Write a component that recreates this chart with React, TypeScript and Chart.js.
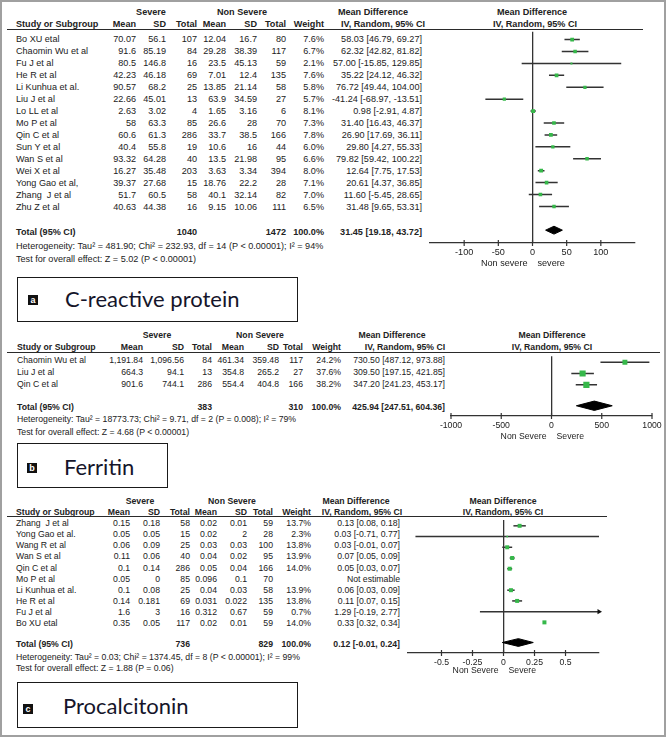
import React, { useEffect, useRef } from "react";
import { Chart, registerables } from "chart.js";
Chart.register(...registerables);

// ================= Panel a — C-reactive protein =================
const STUDIES_A = ["Bo XU etal", "Chaomin Wu et al", "Fu J et al", "He R et al", "Li Kunhua et al.", "Liu J et al", "Lo LL et al", "Mo P et al", "Qin C et al", "Sun Y et al", "Wan S et al", "Wei X et al", "Yong Gao et al,", "Zhang  J et al", "Zhu Z et al"];
const SEV_MEAN_A = [70.07, 91.6, 80.5, 42.23, 90.57, 22.66, 2.63, 58, 60.6, 40.4, 93.32, 16.27, 39.37, 51.7, 40.63];
const SEV_SD_A = [56.1, 85.19, 146.8, 46.18, 68.2, 45.01, 3.02, 63.3, 61.3, 55.8, 64.28, 35.48, 27.68, 60.5, 44.38];
const SEV_N_A = [107, 84, 16, 69, 25, 13, 4, 85, 286, 19, 40, 203, 15, 58, 16];
const NS_MEAN_A = [12.04, 29.28, 23.5, 7.01, 13.85, 63.9, 1.65, 26.6, 33.7, 10.6, 13.5, 3.63, 18.76, 40.1, 9.15];
const NS_SD_A = [16.7, 38.39, 45.13, 12.4, 21.14, 34.59, 3.16, 28, 38.5, 16, 21.98, 3.34, 22.2, 32.14, 10.06];
const NS_N_A = [80, 117, 59, 135, 58, 27, 6, 70, 166, 44, 95, 394, 28, 82, 111];
const WEIGHT_A = [7.6, 6.7, 2.1, 7.6, 5.8, 5.7, 8.1, 7.3, 7.8, 6.0, 6.6, 8.0, 7.1, 7.0, 6.5];
const MD_A = [58.03, 62.32, 57.0, 35.22, 76.72, -41.24, 0.98, 31.4, 26.9, 29.8, 79.82, 12.64, 20.61, 11.6, 31.48];
const LO_A = [46.79, 42.82, -15.85, 24.12, 49.44, -68.97, -2.91, 16.43, 17.69, 4.27, 59.42, 7.75, 4.37, -5.45, 9.65];
const HI_A = [69.27, 81.82, 129.85, 46.32, 104.0, -13.51, 4.87, 46.37, 36.11, 55.33, 100.22, 17.53, 36.85, 28.65, 53.31];
const TOTAL_N_A = [1040, 1472];
const TOTAL_EST_A = [31.45, 19.18, 43.72];
const HETERO_A = "Heterogeneity: Tau² = 481.90; Chi² = 232.93, df = 14 (P < 0.00001); I² = 94%";
const OVERALL_A = "Test for overall effect: Z = 5.02 (P < 0.00001)";
const TICKS_A = [-100, -50, 0, 50, 100];
const RANGE_A = [-150, 150];
const SIDE_A = ["Non severe", "severe"];

// ================= Panel b — Ferritin =================
const STUDIES_B = ["Chaomin Wu et al", "Liu J et al", "Qin C et al"];
const SEV_MEAN_B = [1191.84, 664.3, 901.6];
const SEV_SD_B = [1096.56, 94.1, 744.1];
const SEV_N_B = [84, 13, 286];
const NS_MEAN_B = [461.34, 354.8, 554.4];
const NS_SD_B = [359.48, 265.2, 404.8];
const NS_N_B = [117, 27, 166];
const WEIGHT_B = [24.2, 37.6, 38.2];
const MD_B = [730.5, 309.5, 347.2];
const LO_B = [487.12, 197.15, 241.23];
const HI_B = [973.88, 421.85, 453.17];
const TOTAL_N_B = [383, 310];
const TOTAL_EST_B = [425.94, 247.51, 604.36];
const HETERO_B = "Heterogeneity: Tau² = 18773.73; Chi² = 9.71, df = 2 (P = 0.008); I² = 79%";
const OVERALL_B = "Test for overall effect: Z = 4.68 (P < 0.00001)";
const TICKS_B = [-1000, -500, 0, 500, 1000];
const RANGE_B = [-1000, 1000];
const SIDE_B = ["Non Severe", "Severe"];

// ================= Panel c — Procalcitonin =================
const STUDIES_C = ["Zhang  J et al", "Yong Gao et al.", "Wang R et al", "Wan S et al", "Qin C et al", "Mo P et al", "Li Kunhua et al.", "He R et al", "Fu J et al", "Bo XU etal"];
const SEV_MEAN_C = [0.15, 0.05, 0.06, 0.11, 0.1, 0.05, 0.1, 0.14, 1.6, 0.35];
const SEV_SD_C = [0.18, 0.05, 0.09, 0.06, 0.14, 0, 0.08, 0.181, 3, 0.05];
const SEV_N_C = [58, 15, 25, 40, 286, 85, 25, 69, 16, 117];
const NS_MEAN_C = [0.02, 0.02, 0.03, 0.04, 0.05, 0.096, 0.04, 0.031, 0.312, 0.02];
const NS_SD_C = [0.01, 2, 0.03, 0.02, 0.04, 0.1, 0.03, 0.022, 0.67, 0.01];
const NS_N_C = [59, 28, 100, 95, 166, 70, 58, 135, 59, 59];
const WEIGHT_C = [13.7, 2.3, 13.8, 13.9, 14.0, null, 13.9, 13.8, 0.7, 14.0];
const MD_C = [0.13, 0.03, 0.03, 0.07, 0.05, null, 0.06, 0.11, 1.29, 0.33];
const LO_C = [0.08, -0.71, -0.01, 0.05, 0.03, null, 0.03, 0.07, -0.19, 0.32];
const HI_C = [0.18, 0.77, 0.07, 0.09, 0.07, null, 0.09, 0.15, 2.77, 0.34];
const TOTAL_N_C = [736, 829];
const TOTAL_EST_C = [0.12, -0.01, 0.24];
const HETERO_C = "Heterogeneity: Tau² = 0.03; Chi² = 1374.45, df = 8 (P < 0.00001); I² = 99%";
const OVERALL_C = "Test for overall effect: Z = 1.88 (P = 0.06)";
const TICKS_C = [-0.5, -0.25, 0, 0.25, 0.5];
const RANGE_C = [-0.77, 0.77];
const SIDE_C = ["Non Severe", "Severe"];

// ================= styling =================
const FONT = "'Liberation Sans', Arial, Helvetica, sans-serif";
const BIG_FONT = "Lato, 'Open Sans', sans-serif";
const INK = "#222";
const LINE = "#333";
const GREEN = "#36b84a";
const PAD = 18;
const AXIS_H = 34;

const fmt = (v: number) => v.toLocaleString("en-US", { maximumFractionDigits: 3 });
const fmtW = (w: number | null) => (w == null ? "" : w.toFixed(1) + "%");
const fmtCI = (m: number | null, l: number | null, h: number | null) =>
  m == null ? "Not estimable" : `${m.toFixed(2)} [${(l as number).toFixed(2)}, ${(h as number).toFixed(2)}]`;

function T({ x, y, children, align = "left", bold = false, fs, w = 260 }: any) {
  const left = align === "right" ? x - w : align === "center" ? x - w / 2 : x;
  return (
    <div style={{ position: "absolute", left, top: y - 10, width: w, height: 20, lineHeight: "20px", fontSize: fs, fontWeight: bold ? 700 : 400, textAlign: align, whiteSpace: "pre", fontFamily: FONT, color: INK }}>
      {children}
    </div>
  );
}

const axisDecor = {
  id: "axisDecor",
  afterDraw(chart: any, _a: any, o: any) {
    const { ctx, chartArea: ca } = chart;
    const sx = chart.scales.x;
    ctx.save();
    ctx.strokeStyle = LINE;
    ctx.lineWidth = 1.2;
    sx.ticks.forEach((t: any) => {
      const x = sx.getPixelForValue(t.value);
      ctx.beginPath();
      ctx.moveTo(x, ca.bottom - 3);
      ctx.lineTo(x, ca.bottom + 3);
      ctx.stroke();
    });
    ctx.font = `${o.fs}px ${FONT}`;
    ctx.fillStyle = INK;
    ctx.textBaseline = "middle";
    const x0 = sx.getPixelForValue(0);
    ctx.textAlign = "right";
    ctx.fillText(o.side[0], x0 - o.gap, ca.bottom + o.sideY);
    ctx.textAlign = "left";
    ctx.fillText(o.side[1], x0 + o.gap, ca.bottom + o.sideY);
    ctx.restore();
  },
};

function Forest({ p }: any) {
  const L = p.L;
  const ref = useRef<HTMLCanvasElement>(null);
  const W = L.axisR - L.axisL + 2 * PAD;
  const H = L.axisY - L.lineY + AXIS_H;
  useEffect(() => {
    const shift = L.markShift / L.rowH;
    const [xMin, xMax] = p.range;
    const ds: any[] = [];
    p.md.forEach((m: number | null, i: number) => {
      if (m == null) return;
      const y = i + shift;
      ds.push({
        order: 3,
        data: [{ x: Math.max(p.lo[i], xMin), y }, { x: Math.min(p.hi[i], xMax), y }],
        showLine: true, borderColor: LINE, borderWidth: 1.5, pointRadius: 0, pointHoverRadius: 0,
      });
    });
    const arrows: any[] = [];
    p.md.forEach((m: number | null, i: number) => {
      if (m == null) return;
      if (p.hi[i] > xMax) arrows.push({ x: xMax, y: i + shift, r: 90 });
      if (p.lo[i] < xMin) arrows.push({ x: xMin, y: i + shift, r: -90 });
    });
    if (arrows.length)
      ds.push({
        order: 2,
        data: arrows.map((a) => ({ x: a.x, y: a.y })), pointStyle: "triangle", pointRotation: arrows.map((a) => a.r),
        pointRadius: 3, backgroundColor: "#111", borderColor: "#111", borderWidth: 0, clip: false, showLine: false,
      });
    const sq = p.md.map((_m: any, i: number) => i).filter((i: number) => p.md[i] != null && p.md[i] >= xMin && p.md[i] <= xMax);
    ds.push({
      order: 0,
      data: sq.map((i: number) => ({ x: p.md[i], y: i + shift })), pointStyle: "rect",
      pointRadius: sq.map((i: number) => (L.sq * Math.sqrt(p.weight[i])) / Math.SQRT2), pointHoverRadius: 0,
      backgroundColor: GREEN, borderWidth: 0, showLine: false,
    });
    const ty = (L.totalY - L.row0) / L.rowH + shift;
    const h = L.dia / L.rowH;
    const [est, tlo, thi] = p.totEst;
    // diamond: upper edge filled down to lower edge
    ds.push({
      order: 1,
      data: [{ x: tlo, y: ty }, { x: est, y: ty - h }, { x: thi, y: ty }],
      showLine: true, fill: "+1", backgroundColor: "#000", borderColor: "#000", borderWidth: 1, pointRadius: 0, pointHoverRadius: 0,
    });
    ds.push({
      order: 1,
      data: [{ x: tlo, y: ty }, { x: est, y: ty + h }, { x: thi, y: ty }],
      showLine: true, fill: false, backgroundColor: "#000", borderColor: "#000", borderWidth: 1, pointRadius: 0, pointHoverRadius: 0,
    });
    const chart = new Chart(ref.current as HTMLCanvasElement, {
      type: "scatter",
      data: { datasets: ds },
      plugins: [axisDecor],
      options: {
        responsive: false, animation: false, events: [],
        layout: { padding: { left: PAD, right: PAD, top: 0, bottom: 0 } },
        plugins: { legend: { display: false }, tooltip: { enabled: false }, axisDecor: { fs: p.fs, side: p.side, gap: 5, sideY: L.sideY } } as any,
        scales: {
          x: {
            type: "linear", min: xMin, max: xMax,
            afterBuildTicks: (s: any) => { s.ticks = p.ticks.map((v: number) => ({ value: v })); },
            afterFit: (s: any) => { s.height = AXIS_H; },
            border: { display: true, color: LINE, width: 1.3 },
            grid: { drawTicks: false, lineWidth: 1.3, color: (c: any) => (c.tick && c.tick.value === 0 ? LINE : "rgba(0,0,0,0)") },
            ticks: { autoSkip: false, maxRotation: 0, padding: L.tickPad, font: { family: FONT, size: p.fs }, color: INK, callback: (v: any) => String(v) },
          },
          y: { type: "linear", display: false, reverse: true, min: (L.lineY - L.row0) / L.rowH, max: (L.axisY - L.row0) / L.rowH },
        },
      } as any,
    });
    return () => chart.destroy();
  }, []);
  return <canvas ref={ref} width={W} height={H} style={{ position: "absolute", left: L.axisL - PAD, top: L.lineY, width: W, height: H }} />;
}

function Panel({ p }: any) {
  const L = p.L;
  const fs = p.fs;
  const c = L.cols;
  return (
    <>
      <T x={L.sevC} y={L.headY1} fs={fs} bold align="center">Severe</T>
      <T x={L.nsC} y={L.headY1} fs={fs} bold align="center">Non Severe</T>
      <T x={L.mdC1} y={L.headY1} fs={fs} bold align="center">Mean Difference</T>
      <T x={L.plotC1} y={L.headY1} fs={fs} bold align="center">Mean Difference</T>
      <T x={L.nameX} y={L.headY2} fs={fs} bold>Study or Subgroup</T>
      {["Mean", "SD", "Total", "Mean", "SD", "Total", "Weight"].map((h, j) => (
        <T key={j} x={c[j]} y={L.headY2} fs={fs} bold align="right">{h}</T>
      ))}
      <T x={L.mdC2} y={L.headY2} fs={fs} bold align="center">IV, Random, 95% CI</T>
      <T x={L.plotC2} y={L.headY2} fs={fs} bold align="center">IV, Random, 95% CI</T>
      <div style={{ position: "absolute", left: L.lineX1, top: L.lineY - 0.5, width: L.lineX2 - L.lineX1, height: 1.3, background: "#2a2a2a" }} />
      {p.names.map((n: string, i: number) => {
        const y = L.row0 + i * L.rowH;
        const vals = [fmt(p.sevMean[i]), fmt(p.sevSd[i]), String(p.sevN[i]), fmt(p.nsMean[i]), fmt(p.nsSd[i]), String(p.nsN[i]), fmtW(p.weight[i]), fmtCI(p.md[i], p.lo[i], p.hi[i])];
        return (
          <React.Fragment key={i}>
            <T x={L.nameX} y={y} fs={fs}>{n}</T>
            {vals.map((v, j) => (
              <T key={j} x={c[j]} y={y} fs={fs} align="right">{v}</T>
            ))}
          </React.Fragment>
        );
      })}
      <T x={L.nameX} y={L.totalY} fs={fs} bold>Total (95% CI)</T>
      <T x={c[2]} y={L.totalY} fs={fs} bold align="right">{String(p.totN[0])}</T>
      <T x={c[5]} y={L.totalY} fs={fs} bold align="right">{String(p.totN[1])}</T>
      <T x={c[6]} y={L.totalY} fs={fs} bold align="right">100.0%</T>
      <T x={c[7]} y={L.totalY} fs={fs} bold align="right">{fmtCI(p.totEst[0], p.totEst[1], p.totEst[2])}</T>
      <T x={L.nameX} y={L.heteroY} fs={fs} w={400}>{p.hetero}</T>
      <T x={L.nameX} y={L.testY} fs={fs} w={400}>{p.overall}</T>
      <Forest p={p} />
      <div style={{ position: "absolute", left: L.box.left, top: L.box.top, width: L.box.w, height: L.box.h, border: "1.5px solid #1a1a1a", boxSizing: "border-box" }} />
      <div style={{ position: "absolute", left: L.box.sqX, top: L.box.sqY - 5, width: 10, height: 10, background: "#111", color: "#fff", fontFamily: FONT, fontSize: 9, fontWeight: 700, lineHeight: "10px", textAlign: "center" }}>{p.letter}</div>
      <div style={{ position: "absolute", left: L.box.textX, top: L.box.textY - 15, height: 30, lineHeight: "30px", fontFamily: BIG_FONT, fontSize: L.box.fs, color: "#15152a", whiteSpace: "pre" }}>{p.title}</div>
    </>
  );
}

const PANEL_A = {
  names: STUDIES_A, sevMean: SEV_MEAN_A, sevSd: SEV_SD_A, sevN: SEV_N_A, nsMean: NS_MEAN_A, nsSd: NS_SD_A, nsN: NS_N_A,
  weight: WEIGHT_A, md: MD_A, lo: LO_A, hi: HI_A, totN: TOTAL_N_A, totEst: TOTAL_EST_A, hetero: HETERO_A, overall: OVERALL_A,
  ticks: TICKS_A, range: RANGE_A, side: SIDE_A, fs: 9.1, letter: "a", title: "C-reactive protein",
  L: {
    nameX: 16, headY1: 12, headY2: 23.5, lineY: 29, lineX1: 7, lineX2: 643, row0: 38.5, rowH: 12.07, totalY: 231.5, heteroY: 245.5, testY: 258.5,
    cols: [136, 166, 197, 226, 257, 286, 324, 422], sevC: 151, nsC: 242, mdC1: 373, mdC2: 383, plotC1: 532, plotC2: 535,
    axisL: 430, axisR: 635, axisY: 243, sq: 1.35, dia: 4, markShift: -1.5, tickPad: 4, sideY: 20,
    box: { left: 17, top: 277, w: 281, h: 45, sqX: 28, sqY: 300, textX: 65, textY: 299, fs: 22 },
  },
};

const PANEL_B = {
  names: STUDIES_B, sevMean: SEV_MEAN_B, sevSd: SEV_SD_B, sevN: SEV_N_B, nsMean: NS_MEAN_B, nsSd: NS_SD_B, nsN: NS_N_B,
  weight: WEIGHT_B, md: MD_B, lo: LO_B, hi: HI_B, totN: TOTAL_N_B, totEst: TOTAL_EST_B, hetero: HETERO_B, overall: OVERALL_B,
  ticks: TICKS_B, range: RANGE_B, side: SIDE_B, fs: 8.7, letter: "b", title: "Ferritin",
  L: {
    nameX: 17, headY1: 335, headY2: 347, lineY: 352, lineX1: 7, lineX2: 660, row0: 359.8, rowH: 12.1, totalY: 406.5, heteroY: 419, testY: 431.5,
    cols: [143, 184, 212, 244, 279, 303, 341, 445], sevC: 157, nsC: 260, mdC1: 392, mdC2: 405, plotC1: 552, plotC2: 552,
    axisL: 451, axisR: 652, axisY: 416, sq: 1.0, dia: 5, markShift: -1.5, tickPad: 4, sideY: 21,
    box: { left: 17, top: 443, w: 151, h: 45, sqX: 27, sqY: 468, textX: 64, textY: 467, fs: 22 },
  },
};

const PANEL_C = {
  names: STUDIES_C, sevMean: SEV_MEAN_C, sevSd: SEV_SD_C, sevN: SEV_N_C, nsMean: NS_MEAN_C, nsSd: NS_SD_C, nsN: NS_N_C,
  weight: WEIGHT_C, md: MD_C, lo: LO_C, hi: HI_C, totN: TOTAL_N_C, totEst: TOTAL_EST_C, hetero: HETERO_C, overall: OVERALL_C,
  ticks: TICKS_C, range: RANGE_C, side: SIDE_C, fs: 8.7, letter: "c", title: "Procalcitonin",
  L: {
    nameX: 16, headY1: 501, headY2: 512, lineY: 516, lineX1: 7, lineX2: 607, row0: 523.3, rowH: 11.05, totalY: 643.5, heteroY: 656.5, testY: 667.5,
    cols: [130, 160, 190, 217, 247, 273, 311, 400], sevC: 140, nsC: 232, mdC1: 356, mdC2: 362, plotC1: 503, plotC2: 503,
    axisL: 408, axisR: 599, axisY: 653, sq: 1.07, dia: 4, markShift: -1.3, tickPad: 4, sideY: 18,
    box: { left: 17, top: 682, w: 281, h: 46, sqX: 23, sqY: 709, textX: 63, textY: 706, fs: 22 },
  },
};

export default function App() {
  return (
    <div style={{ position: "absolute", left: 0, top: 0, width: 669, height: 737, background: "#fff", overflow: "hidden" }}>
      <div style={{ position: "absolute", left: 0, top: 0, width: 666, height: 737, border: "2px solid #a0a0a0", boxSizing: "border-box" }} />
      <Panel p={PANEL_A} />
      <Panel p={PANEL_B} />
      <Panel p={PANEL_C} />
    </div>
  );
}
